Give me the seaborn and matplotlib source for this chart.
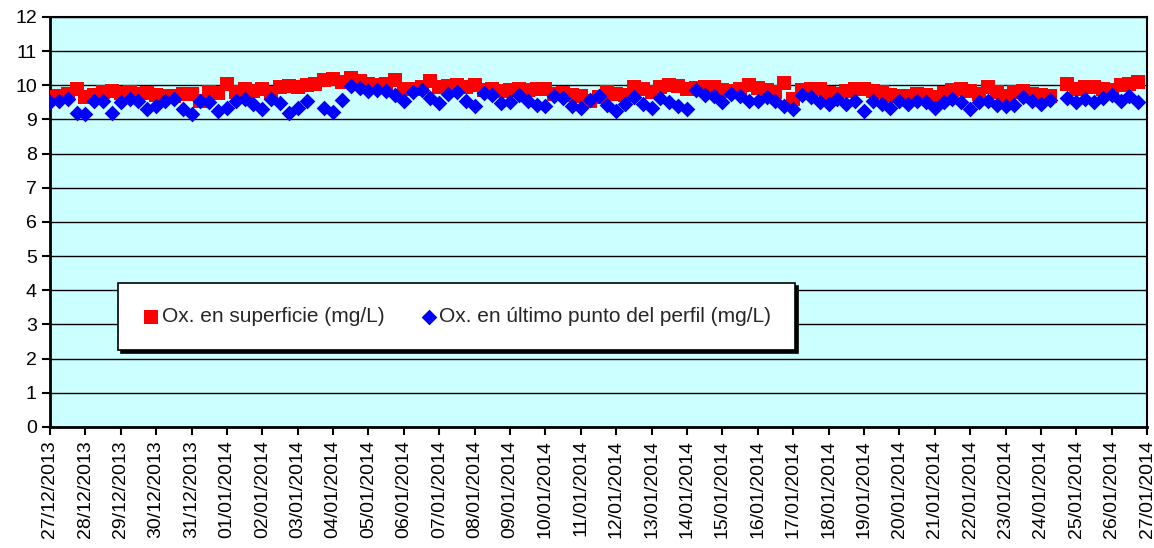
import numpy as np
import pandas as pd
import matplotlib
matplotlib.use("Agg")
import matplotlib.pyplot as plt
import seaborn as sns

# 6-hourly readings starting 27/12/2013 00:00 (nan = missing reading)
ox_superficie = [
    9.65, 9.70, 9.75, 9.90, 9.65, 9.72, 9.80, 9.82, 9.78, 9.80,
    9.75, 9.78, 9.72, 9.68, 9.70, 9.75, 9.75, 9.55, 9.80, 9.78,
    10.05, 9.80, 9.88, 9.82, 9.90, 9.78, 9.95, 9.98, 9.95, 10.02,
    10.05, 10.15, 10.18, 10.10, 10.20, 10.12, 10.05, 10.00, 10.05, 10.15,
    9.88, 9.90, 9.95, 10.12, 9.95, 9.98, 10.00, 9.95, 10.02, 9.85,
    9.90, 9.82, 9.85, 9.88, 9.85, 9.90, 9.88, 9.75, 9.78, 9.72,
    9.70, 9.55, 9.65, 9.80, 9.75, 9.72, 9.95, 9.90, 9.80, 9.95,
    10.00, 9.98, 9.90, 9.92, 9.95, 9.95, 9.85, 9.82, 9.90, 10.00,
    9.92, 9.85, 9.80, 10.08, 9.60, 9.85, 9.90, 9.88, 9.78, 9.75,
    9.82, 9.90, 9.90, 9.82, 9.80, 9.72, 9.68, 9.70, 9.75, 9.72,
    9.65, 9.78, 9.85, 9.90, 9.82, 9.75, 9.95, 9.80, 9.70, 9.80,
    9.82, 9.75, 9.72, 9.70, np.nan, 10.05, 9.90, 9.95, 9.95, 9.90,
    9.85, 10.00, 10.05, 10.10,
]
ox_fondo = [
    9.50, 9.55, 9.60, 9.20, 9.15, 9.55, 9.55, 9.20, 9.50, 9.60,
    9.55, 9.30, 9.40, 9.55, 9.60, 9.30, 9.15, 9.55, 9.50, 9.25,
    9.35, 9.53, 9.60, 9.45, 9.30, 9.60, 9.47, 9.20, 9.35, 9.53,
    np.nan, 9.33, 9.22, 9.58, 9.97, 9.93, 9.82, 9.87, 9.82, 9.73,
    9.55, 9.79, 9.87, 9.63, 9.48, 9.75, 9.79, 9.53, 9.40, 9.77,
    9.72, 9.48, 9.50, 9.72, 9.53, 9.43, 9.40, 9.68, 9.62, 9.40,
    9.35, 9.58, 9.68, 9.43, 9.26, 9.45, 9.65, 9.45, 9.35, 9.62,
    9.50, 9.40, 9.30, 9.85, 9.72, 9.70, 9.52, 9.75, 9.70, 9.53,
    9.55, 9.67, 9.55, 9.40, 9.30, 9.72, 9.65, 9.50, 9.45, 9.60,
    9.45, 9.55, 9.25, 9.55, 9.45, 9.35, 9.55, 9.45, 9.55, 9.50,
    9.35, 9.50, 9.60, 9.50, 9.30, 9.50, 9.55, 9.42, 9.40, 9.42,
    9.65, 9.55, 9.45, 9.58, np.nan, 9.62, 9.50, 9.60, 9.50, 9.62,
    9.72, 9.55, 9.68, 9.50,
]
fechas = [
    "27/12/2013", "28/12/2013", "29/12/2013", "30/12/2013", "31/12/2013",
    "01/01/2014", "02/01/2014", "03/01/2014", "04/01/2014", "05/01/2014",
    "06/01/2014", "07/01/2014", "08/01/2014", "09/01/2014", "10/01/2014",
    "11/01/2014", "12/01/2014", "13/01/2014", "14/01/2014", "15/01/2014",
    "16/01/2014", "17/01/2014", "18/01/2014", "19/01/2014", "20/01/2014",
    "21/01/2014", "22/01/2014", "23/01/2014", "24/01/2014", "25/01/2014",
    "26/01/2014", "27/01/2014",
]

df = pd.DataFrame({
    "tiempo": pd.date_range("2013-12-27", periods=len(ox_superficie), freq="6h"),
    "superficie": ox_superficie,
    "fondo": ox_fondo,
})
dias = pd.to_datetime(fechas, format="%d/%m/%Y")

sns.set_style("ticks")
plt.rcParams["font.family"] = ["Liberation Sans", "DejaVu Sans"]

fig = plt.figure(figsize=(11.54, 5.48), dpi=100)
ax = fig.add_axes([0.0433, 0.221, 0.9507, 0.748])
ax.set_facecolor("#CCFFFF")

sns.scatterplot(data=df, x="tiempo", y="superficie", marker="s", color="#FF0000",
                s=100, linewidth=0, ax=ax, label="Ox. en superficie (mg/L)", zorder=3)
sns.scatterplot(data=df, x="tiempo", y="fondo", marker="D", color="#0000FF",
                s=64, linewidth=0, ax=ax, label="Ox. en último punto del perfil (mg/L)", zorder=4)

ax.set_xlim(dias[0], dias[-1])
ax.set_ylim(0, 12)
ax.set_yticks(range(13))
ax.set_xticks(dias)
ax.set_xticklabels(fechas, rotation=90)
ax.yaxis.grid(True, color="black", linewidth=1)
ax.set_axisbelow(True)
ax.set_xlabel("")
ax.set_ylabel("")
ax.tick_params(axis="both", direction="out", length=6, width=1.5, colors="black", labelsize=14)
for side in ["left", "bottom"]:
    ax.spines[side].set_linewidth(2)
for side in ["top", "right"]:
    ax.spines[side].set_linewidth(1.5)
for sp in ax.spines.values():
    sp.set_color("black")

leg = ax.legend(loc="center", bbox_to_anchor=(0.062, 0.183, 0.617, 0.171), mode="expand",
                ncol=2, fancybox=False, framealpha=1, borderpad=1.15, borderaxespad=0,
                handletextpad=0.05, handlelength=0.9, fontsize=15,
                shadow={"color": "black", "alpha": 1})
leg.get_frame().set_edgecolor("black")
leg.get_frame().set_linewidth(1.2)

fig.savefig("out.png", dpi=100)
